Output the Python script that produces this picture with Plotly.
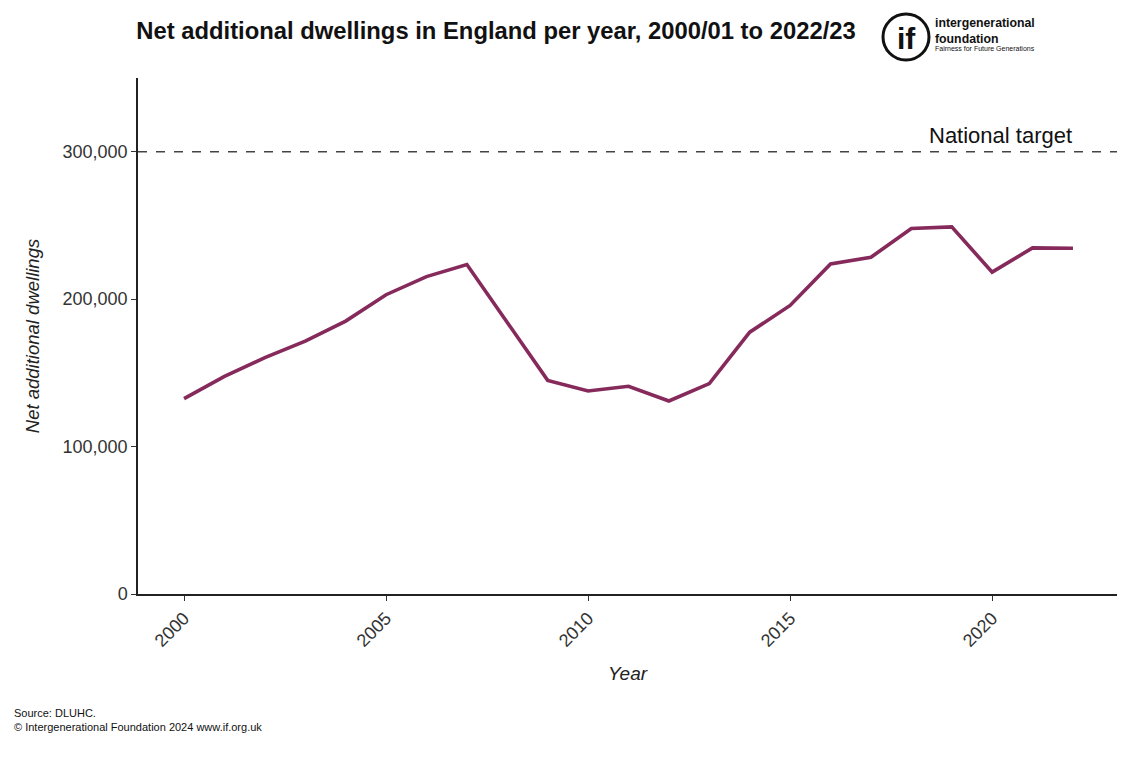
import plotly.graph_objects as go

# Net additional dwellings in England, financial years 2000/01 to 2022/23
years = list(range(2000, 2023))
dwellings = [
    132500, 147600, 160300, 171500, 185100, 203000, 215300, 223500,
    184200, 144900, 137700, 140900, 130900, 142700, 177600, 195700,
    223900, 228400, 247900, 249000, 218300, 234800, 234500,
]
national_target = 300000
y_ticks = [0, 100000, 200000, 300000]
x_ticks = [2000, 2005, 2010, 2015, 2020]

LINE_COLOUR = "#862A5C"
FONT = "Liberation Sans, Arial, sans-serif"

# Plot-area geometry in pixels, used to place the logo and footer in paper units
PL, PR, PT, PB = 138, 1117, 78, 594
PW, PH = PR - PL, PB - PT


def px(x):
    return (x - PL) / PW


def py(y):
    return (PB - y) / PH


fig = go.Figure()

fig.add_trace(go.Scatter(
    x=years, y=dwellings, mode="lines",
    line=dict(color=LINE_COLOUR, width=3.6),
    showlegend=False, hoverinfo="x+y",
))

# Target line across the full width of the plot
fig.add_shape(
    type="line", xref="paper", x0=0, x1=1, yref="y",
    y0=national_target, y1=national_target,
    line=dict(color="#444444", width=1.5, dash="dash"),
)
fig.add_annotation(
    x=px(1000), y=national_target, xref="paper", yref="y",
    text="National target", showarrow=False, yshift=16,
    xanchor="center",
    font=dict(family=FONT, size=22, color="#111111"),
)

fig.update_layout(
    width=1136, height=758,
    margin=dict(l=PL, r=1136 - PR, t=PT, b=758 - PB),
    paper_bgcolor="white", plot_bgcolor="white",
    font=dict(family=FONT, color="#333333"),
    title=dict(
        text="<b>Net additional dwellings in England per year, 2000/01 to 2022/23</b>",
        x=496 / 1136, xanchor="center", y=1 - 31 / 758, yanchor="middle",
        font=dict(family=FONT, size=23.8, color="#111111"),
    ),
    xaxis=dict(
        range=[1998.86, 2023.09], tickvals=x_ticks,
        tickangle=-45, ticks="outside", ticklen=5, tickwidth=1.2, tickcolor="#333333",
        tickfont=dict(family=FONT, size=18, color="#333333"),
        showline=True, linecolor="#222222", linewidth=1.5,
        showgrid=False, zeroline=False,
        title=dict(text="<i>Year</i>", font=dict(family=FONT, size=19, color="#222222"), standoff=17),
    ),
    yaxis=dict(
        range=[0, 350000], tickvals=y_ticks,
        tickformat=",", ticks="outside", ticklen=5, tickwidth=1.2, tickcolor="#333333",
        tickfont=dict(family=FONT, size=18, color="#333333"),
        showline=True, linecolor="#222222", linewidth=1.5,
        showgrid=False, zeroline=False,
        title=dict(text="<i>Net additional dwellings</i>", font=dict(family=FONT, size=18.5, color="#222222"), standoff=18),
    ),
)

# Foundation logo: ringed "if" mark with wordmark
fig.add_shape(
    type="circle", xref="paper", yref="paper",
    x0=px(883), x1=px(929), y0=py(60), y1=py(14),
    line=dict(color="#111111", width=3),
)
fig.add_annotation(
    xref="paper", yref="paper", x=px(906), y=py(38),
    text="<b>if</b>", showarrow=False, xanchor="center", yanchor="middle",
    font=dict(family=FONT, size=30, color="#111111"),
)
fig.add_annotation(
    xref="paper", yref="paper", x=px(933), y=py(31),
    text="<b>intergenerational<br>foundation</b>", showarrow=False,
    xanchor="left", yanchor="middle", align="left",
    font=dict(family=FONT, size=12.3, color="#111111"),
)
fig.add_annotation(
    xref="paper", yref="paper", x=px(933), y=py(49),
    text="Fairness for Future Generations", showarrow=False,
    xanchor="left", yanchor="middle",
    font=dict(family=FONT, size=7, color="#111111"),
)

# Source footer
fig.add_annotation(
    xref="paper", yref="paper", x=px(12), y=py(720),
    text="Source: DLUHC.<br>© Intergenerational Foundation 2024 www.if.org.uk",
    showarrow=False, xanchor="left", yanchor="middle", align="left",
    font=dict(family=FONT, size=11, color="#111111"),
)

fig.write_html("out.html")
